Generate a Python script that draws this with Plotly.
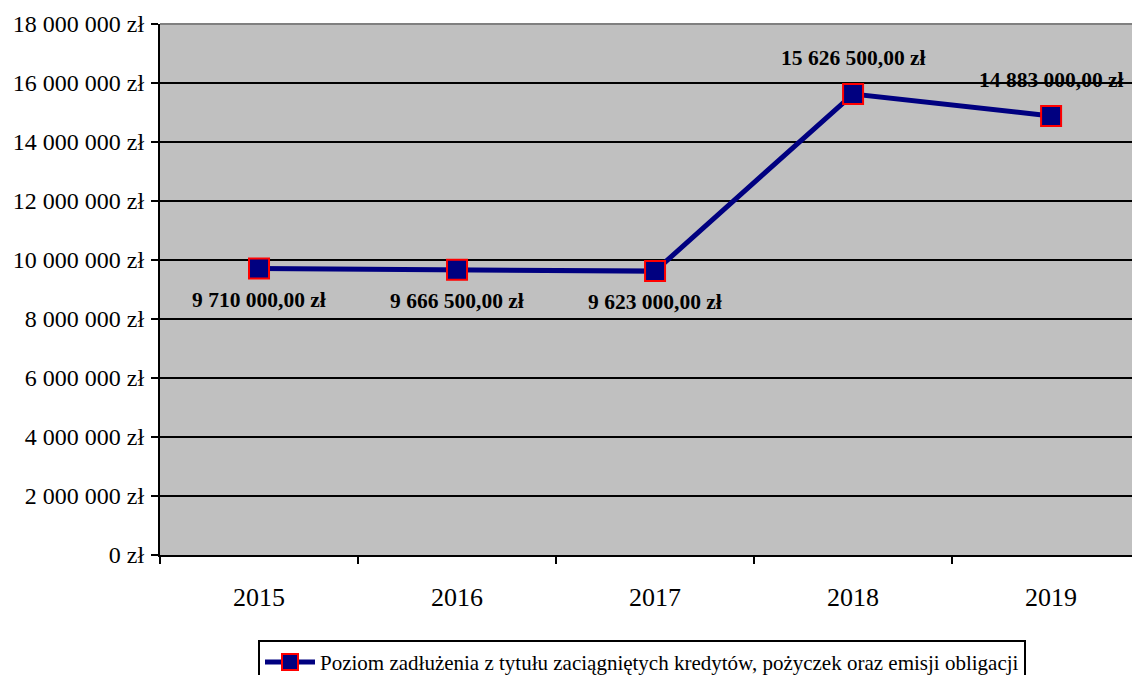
import plotly.graph_objects as go

years = ["2015", "2016", "2017", "2018", "2019"]
values = [9710000, 9666500, 9623000, 15626500, 14883000]
value_labels = ["9 710 000,00 zł", "9 666 500,00 zł", "9 623 000,00 zł",
                "15 626 500,00 zł", "14 883 000,00 zł"]
label_side = ["below", "below", "below", "above", "above"]
series_name = "Poziom zadłużenia z tytułu zaciągniętych kredytów, pożyczek oraz emisji obligacji"
y_tickvals = [0, 2e6, 4e6, 6e6, 8e6, 10e6, 12e6, 14e6, 16e6, 18e6]
y_ticktext = ["0 zł", "2 000 000 zł", "4 000 000 zł", "6 000 000 zł", "8 000 000 zł",
              "10 000 000 zł", "12 000 000 zł", "14 000 000 zł", "16 000 000 zł", "18 000 000 zł"]

FONT = "Liberation Serif, Times New Roman, serif"

fig = go.Figure()
fig.add_trace(go.Scatter(
    x=years, y=values, mode="lines+markers", name=series_name,
    line=dict(color="#000080", width=5),
    marker=dict(symbol="square", size=20, color="#000080",
                line=dict(color="#FF0000", width=2)),
))

yshift = {"below": -31, "above": 36}
for i, (v, t, s) in enumerate(zip(values, value_labels, label_side)):
    fig.add_annotation(x=i, y=v, xref="x", yref="y", text="<b>" + t + "</b>",
                       showarrow=False, yshift=yshift[s],
                       font=dict(family=FONT, size=21.5, color="black"))

fig.add_shape(type="line", xref="paper", yref="paper", x0=0, x1=1, y0=1, y1=1,
              line=dict(color="#808080", width=2))

fig.update_layout(
    width=1132, height=667,
    margin=dict(l=152, r=0, t=16, b=120, autoexpand=False),
    paper_bgcolor="white", plot_bgcolor="#C0C0C0",
    font=dict(family=FONT, size=24, color="black"),
    showlegend=True,
    legend=dict(x=0.1, y=-0.160, xanchor="left", yanchor="top",
                bgcolor="white", bordercolor="black", borderwidth=2,
                font=dict(family=FONT, size=21, color="black"),
                itemwidth=50),
    xaxis=dict(type="category", range=[-0.5, 4.449], tickson="boundaries",
               ticks="outside", ticklen=7, tickwidth=2, tickcolor="black",
               showline=True, linecolor="black", linewidth=2, automargin=False,
               showgrid=False, ticklabelstandoff=18,
               tickfont=dict(family=FONT, size=26)),
    yaxis=dict(range=[0, 18e6], tickvals=y_tickvals, ticktext=y_ticktext,
               ticks="outside", ticklen=7, tickwidth=2, tickcolor="black",
               showline=True, linecolor="black", linewidth=2, automargin=False,
               showgrid=True, gridcolor="black", gridwidth=2, zeroline=False,
               ticklabelstandoff=2,
               tickfont=dict(family=FONT, size=24)),
)

fig.write_html("out.html")
